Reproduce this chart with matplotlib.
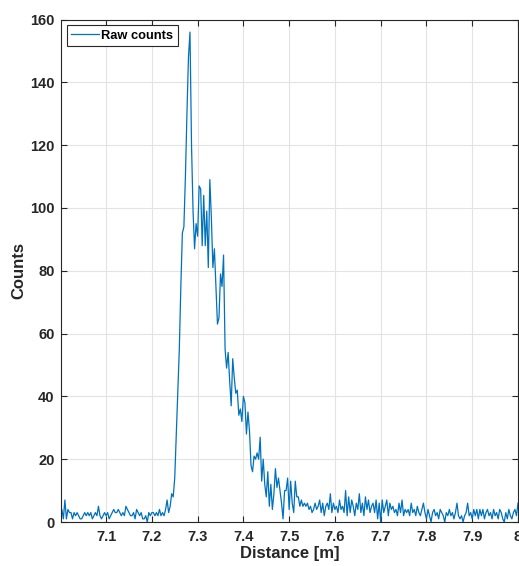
import numpy as np
import matplotlib
matplotlib.use("Agg")
from matplotlib import pyplot as plt

plt.rcParams['font.family'] = ['Liberation Sans', 'DejaVu Sans']

# raw counts, one sample every 1/300 m from 7.0 m to 8.0 m
baseline = [2, 4, 1, 7, 1, 4, 3, 3, 1, 3,
            2, 3, 2, 1, 1, 2, 3, 2, 3, 2,
            3, 1, 2, 3, 2, 5, 2, 1, 2, 3,
            2, 3, 1, 2, 3, 4, 3, 3, 4, 3,
            2, 3, 2, 5, 4, 3, 2, 2, 3, 1,
            4, 3, 2, 3, 1, 1, 2, 0, 3, 2,
            3, 3, 2, 3, 2, 4, 2, 3, 2, 4,
            7, 3]
peak = [5, 9, 8, 14, 28, 42, 55, 75, 92, 94,
        110, 130, 148, 156, 120, 99, 87, 95, 91, 107,
        106, 88, 104, 88, 99, 81, 109, 97, 81, 87,
        75, 63, 65, 79, 75, 85, 55, 49, 54, 45,
        37, 52, 46, 41, 42, 34, 36, 32, 40, 38,
        28, 35, 29, 18, 16, 21, 20, 22, 20, 27,
        13, 20, 12, 8, 16, 5, 12, 4, 9, 17,
        11, 14, 10, 6, 1, 10, 10, 14, 4, 13,
        6, 3, 13, 8]
tail = [8, 5, 7, 5, 6, 5, 6, 4, 5, 3,
        4, 6, 4, 5, 7, 3, 6, 2, 5, 6,
        4, 9, 3, 6, 4, 5, 3, 7, 4, 5,
        3, 10, 2, 8, 3, 7, 5, 2, 6, 4,
        9, 3, 6, 2, 8, 4, 7, 3, 5, 6,
        3, 7, 1, 6, 0, 7, 3, 5, 7, 2,
        6, 4, 5, 3, 4, 2, 6, 3, 7, 2,
        4, 3, 4, 2, 6, 3, 4, 2, 5, 3,
        2, 4, 6, 3, 1, 4, 2, 0, 3, 4,
        2, 3, 1, 4, 3, 2, 0, 3, 2, 4,
        2, 3, 1, 3, 6, 2, 1, 2, 0, 2,
        3, 6, 2, 3, 1, 4, 2, 4, 1, 4,
        2, 4, 1, 3, 4, 2, 3, 1, 4, 2,
        3, 1, 4, 3, 1, 0, 3, 1, 4, 2,
        1, 3, 4, 2, 6]
counts = np.array(baseline + peak + tail)
distance = np.linspace(7.0, 8.0, len(counts))

xticks = [7.1, 7.2, 7.3, 7.4, 7.5, 7.6, 7.7, 7.8, 7.9, 8.0]
xticklabels = ['7.1', '7.2', '7.3', '7.4', '7.5', '7.6', '7.7', '7.8', '7.9', '8']
yticks = [0, 20, 40, 60, 80, 100, 120, 140, 160]

dark = '#262626'
fig = plt.figure(figsize=(5.19, 5.66), dpi=100)
ax = fig.add_axes([61/519, 44/566, 457/519, 502.5/566])
ax.plot(distance, counts, color='#0072BD', lw=0.9, label='Raw counts')

ax.set_xlim(7.0015, 8.0)
ax.set_ylim(0, 160)
ax.set_xticks(xticks)
ax.set_xticklabels(xticklabels)
ax.set_yticks(yticks)
ax.grid(True, color='#e3e3e3', lw=0.8)
ax.set_axisbelow(True)
ax.tick_params(direction='in', top=True, right=True, length=4, width=0.8,
               colors=dark, labelsize=10.5)
ax.tick_params(axis='x', pad=6)
ax.tick_params(axis='y', pad=4.5)
for lab in ax.get_xticklabels() + ax.get_yticklabels():
    lab.set_fontweight('bold')
for s in ax.spines.values():
    s.set_color(dark)
    s.set_linewidth(0.8)

ax.set_xlabel('Distance [m]', fontsize=12, fontweight='bold', color=dark, labelpad=1)
ax.set_ylabel('Counts', fontsize=12, fontweight='bold', color=dark, labelpad=3)

leg = ax.legend(loc='upper left', prop={'weight': 'bold', 'size': 9.3},
                fancybox=False, framealpha=1, edgecolor=dark, borderpad=0.35,
                handlelength=2.15, handletextpad=0.15, borderaxespad=0.45)
leg.get_frame().set_linewidth(0.8)

fig.savefig('out.png', dpi=100)
